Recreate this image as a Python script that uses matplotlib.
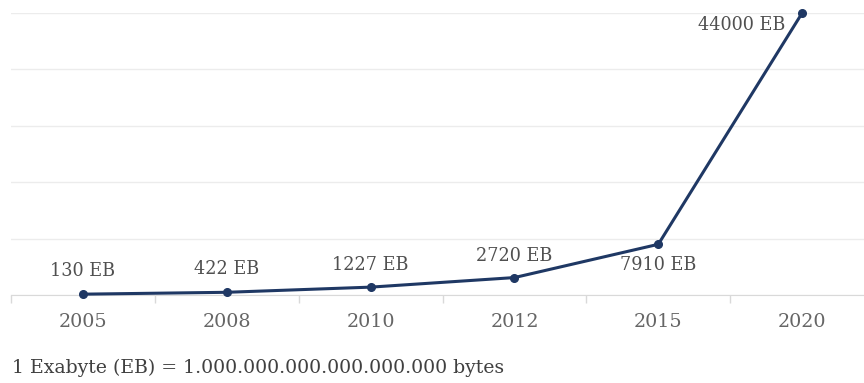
import matplotlib.pyplot as plt
import numpy as np

years = ['2005', '2008', '2010', '2012', '2015', '2020']
volumes = [130, 422, 1227, 2720, 7910, 44000]
labels = ['130 EB', '422 EB', '1227 EB', '2720 EB', '7910 EB', '44000 EB']
# label offsets in pixels (dx, dy) and alignment
offsets = [(0, 23), (0, 23), (0, 22), (0, 22), (0, -21), (-17, -12)]
aligns = ['center', 'center', 'center', 'center', 'center', 'right']

plt.rcParams['font.family'] = ['DejaVu Serif']

fig = plt.figure(figsize=(8.64, 3.83), dpi=100)
ax = fig.add_axes([11 / 864, 88 / 383, 1 - 11 / 864, (295 - 13) / 383])

x = np.arange(len(years))
ax.plot(x, volumes, color='#1f3864', lw=2.2, marker='o', ms=5.5, clip_on=False, zorder=3)

for xi, v, lab, off, ha in zip(x, volumes, labels, offsets, aligns):
    ax.annotate(lab, (xi, v), xytext=off, textcoords='offset pixels',
                ha=ha, va='center', fontsize=12.7, color='#505050')

ax.set_xlim(-0.5, 5.43)
ax.set_ylim(0, 44000)
ax.set_yticks(np.linspace(0, 44000, 6))
ax.grid(axis='y', color='#ececec', lw=1)
ax.set_axisbelow(True)
ax.tick_params(axis='y', left=False, labelleft=False)

ax.set_xticks(x)
ax.set_xticklabels(years, fontsize=13.8, color='#666666')
ax.tick_params(axis='x', which='major', length=0, pad=13)
ax.set_xticks(np.arange(-0.5, 5.5, 1), minor=True)
ax.tick_params(axis='x', which='minor', length=6, color='#d9d9d9', width=1)

for s in ['top', 'right', 'left']:
    ax.spines[s].set_visible(False)
ax.spines['bottom'].set_color('#d9d9d9')

fig.text(12 / 864, 1 - 368 / 383, '1 Exabyte (EB) = 1.000.000.000.000.000.000 bytes',
         fontsize=13.6, color='#404040', va='center', ha='left')

fig.savefig('out.png', dpi=100)
